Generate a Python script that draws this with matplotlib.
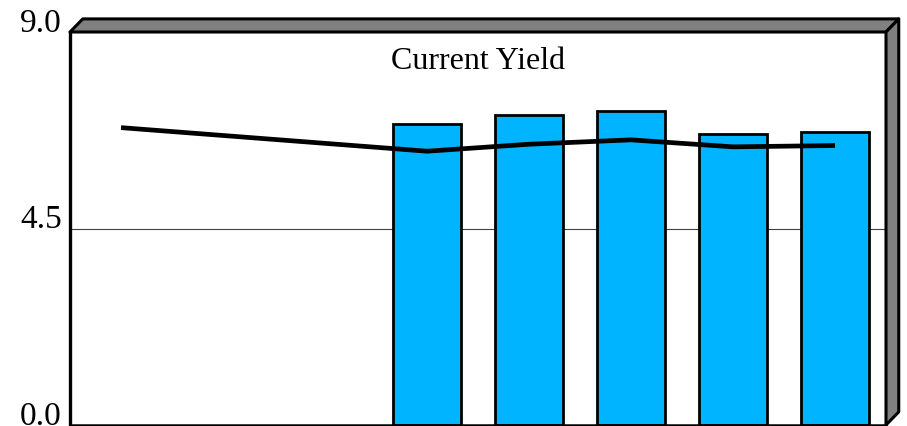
import numpy as np
import matplotlib.pyplot as plt
import matplotlib.transforms as mtransforms
from matplotlib.patches import Polygon

# Data
slots = [0, 1, 2, 3, 4, 5, 6, 7]
bar_slots = [3, 4, 5, 6, 7]
bar_values = [6.89, 7.09, 7.18, 6.66, 6.70]
line_slots = [0, 3, 4, 5, 6, 7]
line_values = [6.81, 6.27, 6.43, 6.53, 6.37, 6.40]
y_ticks = [0.0, 4.5, 9.0]
y_labels = ["0.0", "4.5", "9.0"]
title = "Current Yield"

plt.rcParams['font.family'] = ['Liberation Serif', 'DejaVu Serif']

fig = plt.figure(figsize=(9.07, 4.26), dpi=100)
ax = fig.add_axes([70 / 907, 1 / 426, 816 / 907, 393 / 426])

ax.set_xlim(-0.5, 7.5)
ax.set_ylim(0, 9)

#grid line at the middle tick
ax.axhline(4.5, color="#404040", lw=0.8, zorder=1)

ax.bar(bar_slots, bar_values, width=0.667, color="#00B4FF",
       edgecolor="black", linewidth=2, zorder=2)
ax.plot(line_slots, line_values, color="black", lw=3.4,
        solid_capstyle="butt", zorder=3)

ax.text(3.5, 8.15, title, ha="center", va="baseline", fontsize=23)

# fake 3d frame: top and right faces
dx, dy = 0.125, 0.30
top = Polygon([(-0.5, 9), (7.5, 9), (7.5 + dx, 9 + dy), (-0.5 + dx, 9 + dy)],
              closed=True, facecolor="#808080", edgecolor="black", lw=2.2,
              joinstyle="round", clip_on=False, zorder=4)
right = Polygon([(7.5, 0), (7.5, 9), (7.5 + dx, 9 + dy), (7.5 + dx, dy)],
                closed=True, facecolor="#808080", edgecolor="black", lw=2.2,
                joinstyle="round", clip_on=False, zorder=4)
ax.add_patch(top)
ax.add_patch(right)

ax.set_yticks(y_ticks)
ax.set_yticklabels(y_labels, fontsize=24)
shift = mtransforms.ScaledTranslation(0, -3 / 100, fig.dpi_scale_trans)
for lab in ax.get_yticklabels():
    lab.set_verticalalignment("baseline")
    lab.set_transform(lab.get_transform() + shift)
ax.set_xticks([])
ax.tick_params(axis="y", length=0, pad=6)

for s in ["top", "right"]:
    ax.spines[s].set_visible(False)
ax.spines["left"].set_linewidth(2.4)
ax.spines["bottom"].set_linewidth(1.8)

fig.savefig("out.png", dpi=100)
